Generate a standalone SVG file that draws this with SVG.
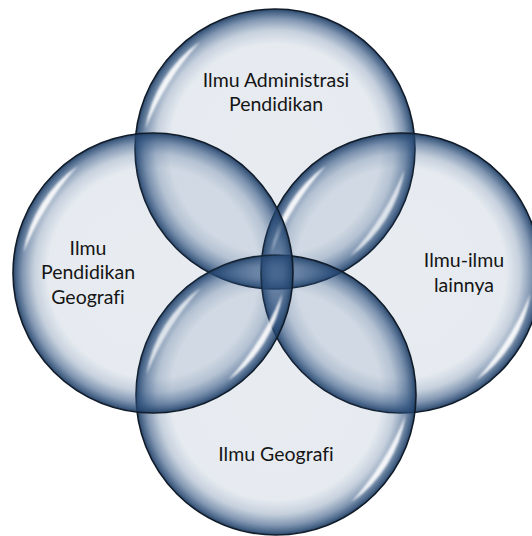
<svg xmlns="http://www.w3.org/2000/svg" width="532" height="536" viewBox="0 0 532 536">
  <style>
    .bub { fill: url(#bubFill); stroke: #111c2a; stroke-width: 1.6; }
    .hl { fill: #ffffff; opacity: 0.9; filter: url(#soft); }
    .lbl { font-family: Lato, "Open Sans", "Liberation Sans", sans-serif; font-size: 19.5px; fill: #151515; text-anchor: middle; font-variant-ligatures: none; }
  </style>
  <defs>
    <radialGradient id="bubFill" cx="50%" cy="50%" r="50%">
      <stop offset="0" stop-color="#2f5584" stop-opacity="0.11"/>
      <stop offset="0.75" stop-color="#2f5584" stop-opacity="0.12"/>
      <stop offset="0.85" stop-color="#2c5281" stop-opacity="0.27"/>
      <stop offset="0.93" stop-color="#294d7b" stop-opacity="0.58"/>
      <stop offset="0.975" stop-color="#244670" stop-opacity="0.82"/>
      <stop offset="1" stop-color="#1d3a5f" stop-opacity="0.94"/>
    </radialGradient>
    <filter id="soft" x="-20%" y="-20%" width="140%" height="140%">
      <feGaussianBlur stdDeviation="1.2"/>
    </filter>
    <path id="hlShape" class="hl" d="M -129.5 -20.5 A 131 131 0 0 1 -75.1 -107.3 A 300 300 0 0 0 -129.5 -20.5 Z"/>
  </defs>
  <rect width="532" height="536" fill="#ffffff"/>

  <g id="node-top">
    <circle class="bub" cx="275" cy="149" r="140"/>
    <use href="#hlShape" transform="translate(275,149)"/>
    <use href="#hlShape" transform="translate(275,149) rotate(180)"/>
    <text class="lbl" x="276" y="87">Ilmu Administrasi</text>
    <text class="lbl" x="276" y="111">Pendidikan</text>
  </g>

  <g id="node-right">
    <circle class="bub" cx="401" cy="273" r="140"/>
    <use href="#hlShape" transform="translate(401,273)"/>
    <use href="#hlShape" transform="translate(401,273) rotate(180)"/>
    <text class="lbl" x="464" y="267">Ilmu-ilmu</text>
    <text class="lbl" x="464" y="292">lainnya</text>
  </g>

  <g id="node-bottom">
    <circle class="bub" cx="276" cy="395" r="140"/>
    <use href="#hlShape" transform="translate(276,395)"/>
    <use href="#hlShape" transform="translate(276,395) rotate(180)"/>
    <text class="lbl" x="276" y="461">Ilmu Geografi</text>
  </g>

  <g id="node-left">
    <circle class="bub" cx="153" cy="273" r="140"/>
    <use href="#hlShape" transform="translate(153,273)"/>
    <use href="#hlShape" transform="translate(153,273) rotate(180)"/>
    <text class="lbl" x="88" y="255">Ilmu</text>
    <text class="lbl" x="88" y="279">Pendidikan</text>
    <text class="lbl" x="88" y="304">Geografi</text>
  </g>

  <g id="connectors"></g>
</svg>
